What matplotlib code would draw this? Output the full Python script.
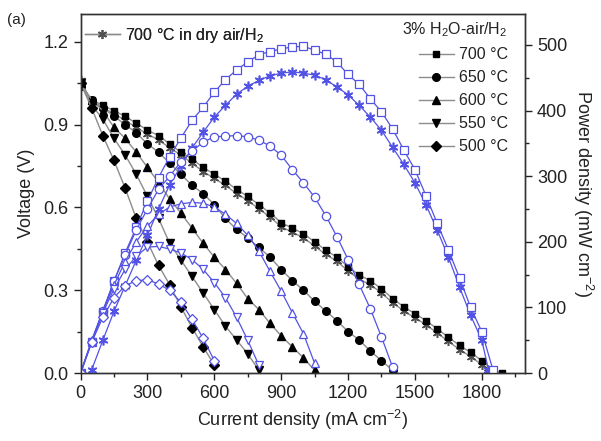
import matplotlib
matplotlib.use("Agg")
import matplotlib.pyplot as plt
from matplotlib.ticker import MultipleLocator, FormatStrFormatter

plt.rcParams["font.family"] = ["Liberation Sans", "DejaVu Sans"]
plt.rcParams["mathtext.default"] = "regular"

# current density (mA cm-2) and voltage (V) / power density (mW cm-2)
# 700 C, 3% H2O-air/H2 (last voltage point sits on the axis)
cur_700 = [0, 50, 100, 150, 200, 250, 300, 350, 400, 450, 500, 550, 600, 650,
           700, 750, 800, 850, 900, 950, 1000, 1050, 1100, 1150, 1200, 1250,
           1300, 1350, 1400, 1450, 1500, 1550, 1600, 1650, 1700, 1750, 1800,
           1850, 1890]
volt_700 = [1.04, 0.99, 0.97, 0.95, 0.93, 0.905, 0.88, 0.86, 0.83, 0.80,
            0.775, 0.745, 0.72, 0.695, 0.665, 0.64, 0.61, 0.58, 0.545, 0.525,
            0.505, 0.475, 0.445, 0.42, 0.385, 0.355, 0.335, 0.305, 0.27, 0.24,
            0.215, 0.19, 0.16, 0.13, 0.10, 0.075, 0.045, 0.01, 0.0]
pow_700 = [0, 47, 93, 140, 183, 222, 262, 298, 330, 358,
           385, 405, 428, 447, 462, 474, 485, 490, 494, 497,
           498, 492, 486, 474, 455, 440, 418, 398, 372, 340,
           310, 270, 228, 188, 145, 100, 63, 5]

# 700 C, dry air/H2
cur_dry = [0, 50, 100, 150, 200, 250, 300, 350, 400, 450, 500, 550, 600, 650,
           700, 750, 800, 850, 900, 950, 1000, 1050, 1100, 1150, 1200, 1250,
           1300, 1350, 1400, 1450, 1500, 1550, 1600, 1650, 1700, 1750, 1800,
           1830]
volt_dry = [1.06, 0.98, 0.96, 0.94, 0.915, 0.89, 0.865, 0.845, 0.815, 0.79,
            0.76, 0.73, 0.705, 0.68, 0.65, 0.625, 0.595, 0.565, 0.53, 0.51,
            0.49, 0.46, 0.43, 0.405, 0.37, 0.34, 0.32, 0.29, 0.255, 0.225,
            0.2, 0.175, 0.145, 0.115, 0.085, 0.06, 0.03, 0.005]
pow_dry = [5, 50, 94, 133, 172, 210, 250, 287, 315, 343,
           367, 390, 408, 425, 437, 446, 453, 457, 459, 457,
           454, 447, 436, 424, 408, 390, 370, 344, 318, 290,
           256, 218, 177, 131, 88, 50, 5]

# 650 C
cur_650 = [0, 50, 100, 150, 200, 250, 300, 350, 400, 450, 500, 550, 600, 650,
           700, 750, 800, 850, 900, 950, 1000, 1050, 1100, 1150, 1200, 1250,
           1300, 1350, 1400]
volt_650 = [1.04, 0.99, 0.96, 0.93, 0.90, 0.87, 0.83, 0.80, 0.76, 0.72,
            0.68, 0.65, 0.61, 0.56, 0.52, 0.49, 0.455, 0.42, 0.375, 0.335,
            0.30, 0.26, 0.225, 0.19, 0.15, 0.12, 0.08, 0.045, 0.01]
pow_650 = [0, 48, 95, 140, 180, 218, 250, 280, 300, 322,
           338, 352, 360, 361, 362, 360, 355, 346, 332, 310,
           290, 268, 240, 208, 173, 135, 98, 55, 9]

# 600 C
cur_600 = [0, 50, 100, 150, 200, 250, 300, 350, 400, 450, 500, 550, 600, 650,
           700, 750, 800, 850, 900, 950, 1000, 1050]
volt_600 = [1.05, 0.99, 0.95, 0.89, 0.85, 0.80, 0.745, 0.69, 0.63, 0.58,
            0.525, 0.47, 0.42, 0.375, 0.325, 0.27, 0.23, 0.18, 0.135, 0.095,
            0.055, 0.01]
pow_600 = [0, 50, 95, 134, 170, 200, 224, 242, 253, 258,
           260, 259, 253, 242, 228, 210, 186, 155, 125, 92,
           60, 15]

# 550 C
cur_550 = [0, 50, 100, 150, 200, 250, 300, 350, 400, 450, 500, 550, 600, 650,
           700, 750, 800]
volt_550 = [1.05, 0.97, 0.92, 0.85, 0.79, 0.72, 0.64, 0.56, 0.47, 0.41,
            0.35, 0.29, 0.23, 0.17, 0.12, 0.07, 0.01]
pow_550 = [0, 48, 92, 128, 158, 178, 192, 193, 189, 183,
           173, 158, 138, 115, 85, 50, 12]

# 500 C
cur_500 = [0, 50, 100, 150, 200, 250, 300, 350, 400, 450, 500, 550, 600]
volt_500 = [1.05, 0.96, 0.86, 0.77, 0.67, 0.56, 0.475, 0.39, 0.32, 0.24,
            0.165, 0.095, 0.03]
pow_500 = [0, 47, 85, 115, 133, 141, 142, 136, 126, 108, 82, 53, 19]

BLUE = "#5252e4"
GRAY = "#8c8c8c"
TXT = "#222222"
STAR = (6, 2, 0)  # asterisk

fig = plt.figure(figsize=(6.01, 4.41), dpi=100)
ax = fig.add_axes([0.134, 0.154, 0.740, 0.814])
ax2 = ax.twinx()

# voltage curves (left axis)
h_dry, = ax.plot(cur_dry, volt_dry, color=GRAY, lw=1, marker=STAR, ms=6.5,
                 mec="#505050", mew=1.1)
handles = []
wet = [
    (cur_700, volt_700, "s", 5.0, "700 °C"),
    (cur_650, volt_650, "o", 5.5, "650 °C"),
    (cur_600, volt_600, "^", 5.8, "600 °C"),
    (cur_550, volt_550, "v", 5.8, "550 °C"),
    (cur_500, volt_500, "D", 4.6, "500 °C"),
]
for cur, volt, m, ms, lab in wet:
    h, = ax.plot(cur, volt, color=GRAY, lw=1, marker=m, ms=ms,
                 mfc="black", mec="black", label=lab)
    handles.append(h)

# power curves (right axis)
ax2.plot(cur_dry[1:], pow_dry, color=BLUE, lw=0.9, marker=STAR, ms=7,
         mec=BLUE, mew=1.2)
power = [
    (cur_700[:-1], pow_700, "s", 5.2),
    (cur_650, pow_650, "o", 6.0),
    (cur_600, pow_600, "^", 6.4),
    (cur_550, pow_550, "v", 6.4),
    (cur_500, pow_500, "D", 5.2),
]
for cur, pw, m, ms in power:
    ax2.plot(cur, pw, color=BLUE, lw=0.9, marker=m, ms=ms,
             mfc="white", mec=BLUE, mew=0.9)

ax.set_xlim(0, 1995)
ax.set_ylim(0, 1.3)
ax2.set_ylim(0, 547)

ax.xaxis.set_major_locator(MultipleLocator(300))
ax.xaxis.set_minor_locator(MultipleLocator(150))
ax.yaxis.set_major_locator(MultipleLocator(0.3))
ax.yaxis.set_minor_locator(MultipleLocator(0.15))
ax.yaxis.set_major_formatter(FormatStrFormatter("%.1f"))
ax2.yaxis.set_major_locator(MultipleLocator(100))
ax2.yaxis.set_minor_locator(MultipleLocator(50))

for a in (ax, ax2):
    a.tick_params(which="major", direction="out", length=5, width=1,
                  labelsize=13, colors=TXT)
    a.tick_params(which="minor", direction="out", length=3, width=1, colors=TXT)
    for s in a.spines.values():
        s.set_color("#333333")
        s.set_linewidth(1)
ax.set_xticks([0, 300, 600, 900, 1200, 1500, 1800])

ax.set_xlabel("Current density (mA cm$^{-2}$)", fontsize=13, color=TXT)
ax.set_ylabel("Voltage (V)", fontsize=13, color=TXT, labelpad=6)
ax2.set_ylabel("Power density (mW cm$^{-2}$)", fontsize=13, color=TXT,
               rotation=270, labelpad=20)

leg1 = ax.legend([h_dry], ["700 °C in dry air/H$_2$"], loc="upper left",
                 bbox_to_anchor=(-0.005, 0.985), frameon=False, fontsize=11.5,
                 handlelength=2.2, handletextpad=0.3, borderaxespad=0)
for t in leg1.get_texts():
    t.set_color(TXT)
ax.add_artist(leg1)
leg2 = ax2.legend(handles, [h.get_label() for h in handles], loc="upper right",
                  bbox_to_anchor=(0.975, 1.0), frameon=False, fontsize=11.5,
                  title="3% H$_2$O-air/H$_2$", title_fontsize=11.5,
                  handlelength=2.2, handletextpad=0.3, borderaxespad=0,
                  labelspacing=0.5, alignment="right")
for t in leg2.get_texts():
    t.set_color(TXT)
leg2.get_title().set_color(TXT)

fig.text(0.012, 0.955, "(a)", fontsize=11, color=TXT, va="center")

fig.savefig("out.png", dpi=100)
